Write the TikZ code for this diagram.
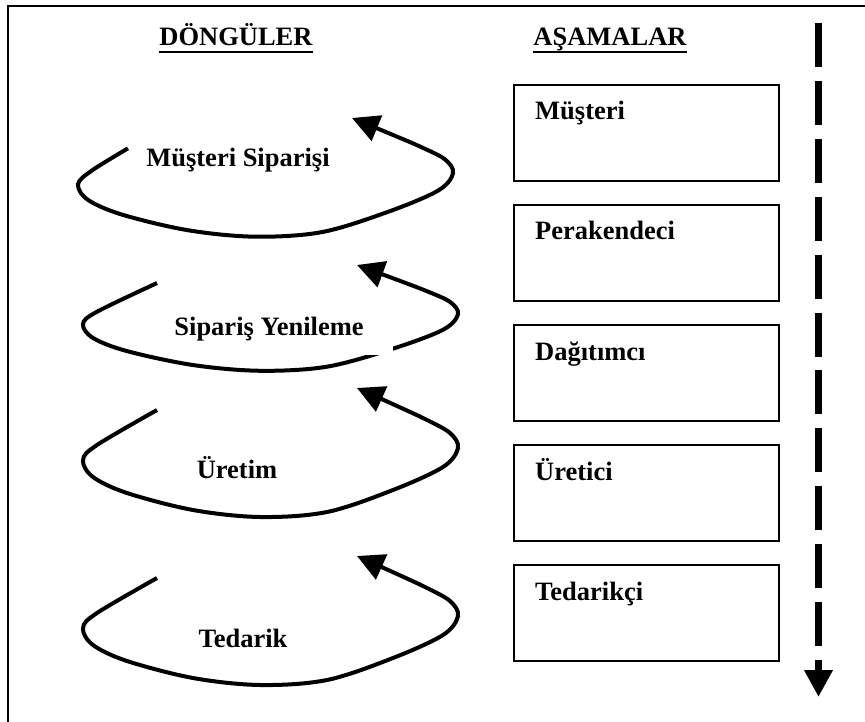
\documentclass[tikz,border=0pt]{standalone}
\usepackage{fontspec}
\setmainfont{Liberation Serif}
\usetikzlibrary{arrows.meta}
\tikzset{
  lbl/.style={font=\fontsize{26.5}{30}\selectfont\bfseries, inner sep=0pt, anchor=base},
  boxlbl/.style={font=\fontsize{26.5}{30}\selectfont\bfseries, inner sep=0pt, anchor=base west},
  stage/.style={draw, line width=2pt, minimum width=265pt, minimum height=96pt, anchor=north west, inner sep=0pt},
  loopline/.style={line width=4pt, -{Triangle[length=27pt,width=27pt]}},
  ulbar/.style={line width=2.5pt},
}
\newcommand{\myloop}[4]{%
 \begin{scope}[shift={(#1,#2)}, yscale=#3]
  \draw[loopline] plot[smooth, tension=0.55] coordinates {
   #4 (-260,57) (-274,72) (-264,89) (-230,105) (-164,122) (-97,129)
   (-30,124) (36,102) (86,79) (101,60) (93,45) (70,32) (40,18) (0,0)};
 \end{scope}}
\begin{document}
\begin{tikzpicture}[x=1pt,y=-1pt]
\useasboundingbox (0,0) rectangle (865,722);
% outer frame (right and bottom edges fall outside the picture)
\draw[line width=2pt] (8,730) -- (8,6) -- (875,6);
% headings
\node[lbl] (h1) at (236,46) {DÖNGÜLER};
\node[lbl] (h2) at (610,46) {AŞAMALAR};
\draw[ulbar] ([yshift=-6pt]h1.base west) -- ([yshift=-6pt]h1.base east);
\draw[ulbar] ([yshift=-6pt]h2.base west) -- ([yshift=-6pt]h2.base east);
% stages
\node[stage] (s1) at (513,84) {};
\node[stage] (s2) at (513,204) {};
\node[stage] (s3) at (513,324) {};
\node[stage] (s4) at (513,444) {};
\node[stage] (s5) at (513,564) {};
\node[boxlbl] (t1) at (535,120) {Müşteri};
\node[boxlbl] (t2) at (535,240) {Perakendeci};
\node[boxlbl] (t3) at (535,360) {Dağıtımcı};
\node[boxlbl] (t4) at (535,480) {Üretici};
\node[boxlbl] (t5) at (535,600) {Tedarikçi};
% dashed downward arrow
\coordinate (dtop) at (818.5,23);
\coordinate (dbot) at (818.5,697);
\draw[line width=7pt, dash pattern=on 44pt off 13.9pt, -{Triangle[length=27pt,width=27pt]}] (dtop) -- (dbot);
% loops
\myloop{352}{118}{0.92}{(-224,33)}
\myloop{357}{265}{0.82}{(-200,22)}
\myloop{357}{388}{1}{(-200,22)}
\myloop{357}{556}{1}{(-200,22)}
% loop labels
\node[lbl] (c1) at (238,167) {Müşteri Siparişi};
\fill[white] (175,305) rectangle (393,355);
\node[lbl] (c2) at (269,335) {Sipariş Yenileme};
\node[lbl] (c3) at (237,478) {Üretim};
\node[lbl] (c4) at (243,647) {Tedarik};
\end{tikzpicture}
\end{document}
